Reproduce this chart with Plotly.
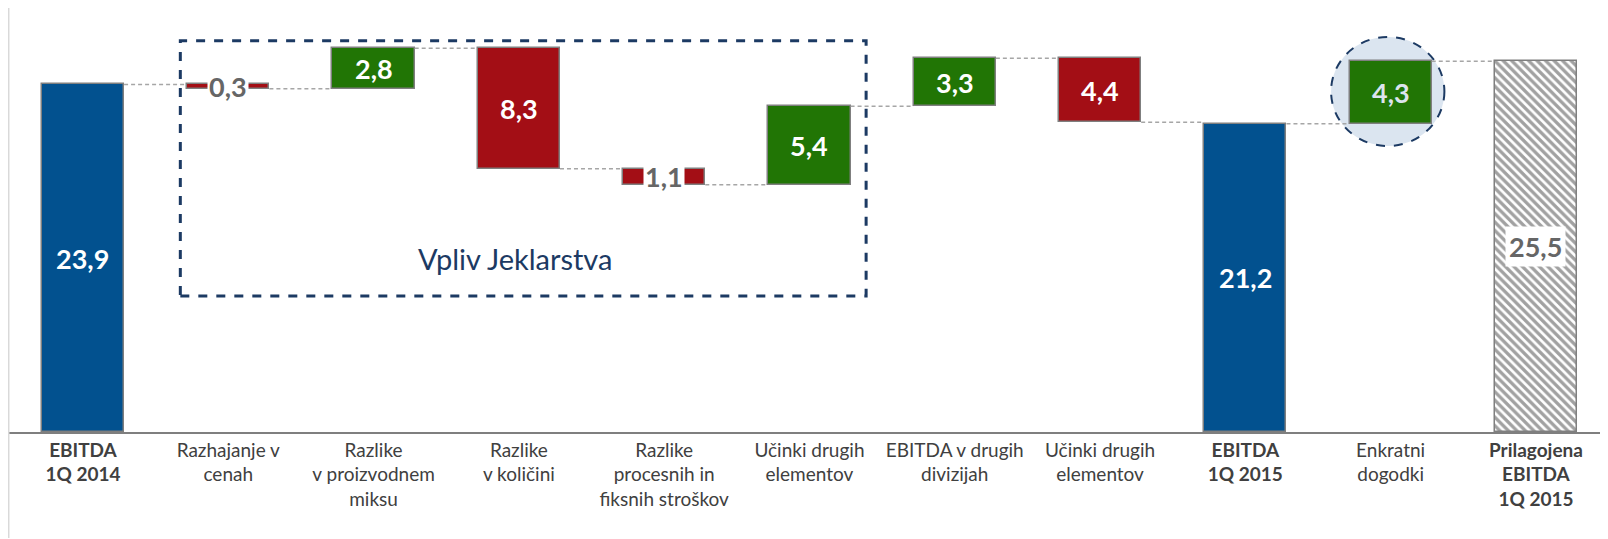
import plotly.graph_objects as go

categories = [
    "<b>EBITDA</b><br><b>1Q 2014</b>",
    "Razhajanje v<br>cenah",
    "Razlike<br>v proizvodnem<br>miksu",
    "Razlike<br>v količini",
    "Razlike<br>procesnih in<br>fiksnih stroškov",
    "Učinki drugih<br>elementov",
    "EBITDA v drugih<br>divizijah",
    "Učinki drugih<br>elementov",
    "<b>EBITDA</b><br><b>1Q 2015</b>",
    "Enkratni<br>dogodki",
    "<b>Prilagojena</b><br><b>EBITDA</b><br><b>1Q 2015</b>",
]
values = [23.9, -0.3, 2.8, -8.3, -1.1, 5.4, 3.3, -4.4, 21.2, 4.3, 25.5]
measures = ["absolute", "relative", "relative", "relative", "relative", "relative",
            "relative", "relative", "absolute", "relative", "absolute"]

BLUE = "#02518f"
RED = "#a30e15"
GREEN = "#217505"
NAVY = "#1c3a63"
FONT = "Lato, 'Open Sans', sans-serif"

x = list(range(len(values)))
bar_w = 0.566

# running levels for the waterfall
bases, ends = [], []
level = 0.0
for v, m in zip(values, measures):
    if m == "absolute":
        bases.append(0.0)
        level = v
    else:
        bases.append(level)
        level = level + v
    ends.append(level)

colors = []
for i, (v, m) in enumerate(zip(values, measures)):
    if m == "absolute":
        colors.append("white" if i == len(values) - 1 else BLUE)
    else:
        colors.append(GREEN if v > 0 else RED)
shapes_pat = ["\\" if i == len(values) - 1 else "" for i in x]

fig = go.Figure()

fig.add_trace(go.Bar(
    x=x, y=values, base=bases, width=bar_w,
    marker=dict(
        color=colors,
        line=dict(color="#7f7f7f", width=1.5),
        pattern=dict(shape=shapes_pat, fgcolor="#1e1e1e", bgcolor="white",
                     size=6, solidity=0.55),
    ),
    hoverinfo="skip",
    showlegend=False,
))

# connector lines
for i in range(len(values) - 1):
    fig.add_trace(go.Scatter(
        x=[i + bar_w / 2, i + 1 - bar_w / 2],
        y=[ends[i], ends[i]],
        mode="lines",
        line=dict(color="#a6a6a6", width=1.5, dash="4px,3px"),
        hoverinfo="skip",
        showlegend=False,
    ))

# value labels
for i, (v, b) in enumerate(zip(values, bases)):
    txt = f"{abs(v):.1f}".replace(".", ",")
    small = abs(v) < 2
    last = i == len(values) - 1
    if small or last:
        fig.add_annotation(
            x=i, y=b + v / 2, text=f"<b>{txt}</b>", showarrow=False,
            font=dict(family=FONT, size=27, color="#666666"),
            bgcolor="white", borderpad=1 if small else 3,
        )
    else:
        fig.add_annotation(
            x=i, y=b + v / 2, text=f"<b>{txt}</b>", showarrow=False,
            font=dict(family=FONT, size=27,
                      color="#dce4ee" if i == 9 else "white"),
        )

fig.add_annotation(
    x=2.97, y=11.9, text="Vpliv Jeklarstva", showarrow=False,
    font=dict(family=FONT, size=29, color=NAVY),
)

fig.update_layout(
    width=1600, height=531,
    margin=dict(l=0, r=0, t=0, b=107),
    paper_bgcolor="white", plot_bgcolor="white",
    bargap=0,
    xaxis=dict(
        range=[-0.516, 10.496],
        tickmode="array", tickvals=x, ticktext=categories,
        tickfont=dict(family=FONT, size=19, color="#404040"),
        ticklabelstandoff=0,
        showline=True, linecolor="#7f7f7f", linewidth=1.5,
        showgrid=False, zeroline=False, ticks="",
    ),
    yaxis=dict(range=[0, 29.16], visible=False, showgrid=False),
    shapes=[
        dict(type="circle", xref="x", yref="y", x0=8.59, x1=9.37, y0=19.67, y1=27.17,
             fillcolor="#dbe5f0", line=dict(color=NAVY, width=2, dash="dash"),
             layer="below"),
        dict(type="rect", xref="x", yref="y", x0=0.67, x1=5.39, y0=9.35, y1=26.9,
             line=dict(color=NAVY, width=3, dash="dash"), layer="above"),
        dict(type="line", xref="x", yref="paper", x0=-0.511, x1=-0.511, y0=-0.25, y1=1,
             line=dict(color="#d9d9d9", width=1.5)),
        dict(type="line", xref="x", yref="paper", x0=10.475, x1=10.475, y0=-0.25, y1=1,
             line=dict(color="#d9d9d9", width=1.5)),
    ],
)

fig.write_html("out.html")
